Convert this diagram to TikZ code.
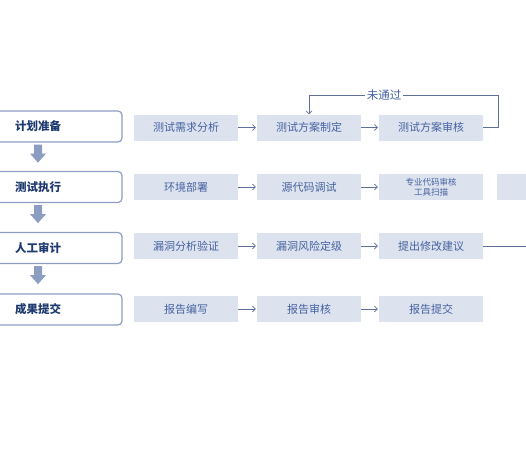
\documentclass[tikz,border=0pt]{standalone}
\usepackage{fontspec}
\setmainfont{Noto Sans CJK SC}
\usetikzlibrary{arrows.meta,calc}
\definecolor{phaseborder}{HTML}{8D9DC3}
\definecolor{phasetext}{HTML}{1F3A70}
\definecolor{stepfill}{HTML}{DCE2EE}
\definecolor{steptext}{HTML}{4662A0}
\definecolor{arrowc}{HTML}{5E6F99}
\definecolor{blockarrow}{HTML}{8C9DC2}
\begin{document}
\begin{tikzpicture}[x=1pt,y=-1pt,
 phasebox/.style={draw=phaseborder, line width=1.2pt, rounded corners=4pt, fill=white,
   minimum width=168pt, minimum height=31pt, inner sep=0pt,
   font=\fontsize{11.5}{13}\selectfont\bfseries, text=phasetext},
 stepbox/.style={fill=stepfill, minimum width=104pt, minimum height=26pt, inner sep=0pt,
   text=steptext, font=\fontsize{11}{13}\selectfont, align=center},
 flow/.style={draw=arrowc, line width=0.6pt, -{Straight Barb[length=3pt,width=6pt]}, shorten >=1pt},
 loopline/.style={draw=arrowc, line width=0.7pt},
 lbl/.style={fill=white, text=steptext, font=\fontsize{11.5}{13}\selectfont, inner sep=2pt},
]
\useasboundingbox (0,0) rectangle (526,459);
% phases
\node[phasebox] (p1) at (38,126.5) {计划准备};
\node[phasebox] (p2) at (38,187) {测试执行};
\node[phasebox] (p3) at (38,248) {人工审计};
\node[phasebox] (p4) at (38,309.5) {成果提交};
\foreach \a in {p1,p2,p3}{
  \fill[blockarrow] ($(\a.south)+(-4,2)$) -- ($(\a.south)+(4,2)$) -- ($(\a.south)+(4,11)$)
    -- ($(\a.south)+(8,11)$) -- ($(\a.south)+(0,20)$) -- ($(\a.south)+(-8,11)$)
    -- ($(\a.south)+(-4,11)$) -- cycle;
}
% row 1
\node[stepbox] (s11) at (186,127.5) {测试需求分析};
\node[stepbox] (s12) at (309,127.5) {测试方案制定};
\node[stepbox] (s13) at (431,127.5) {测试方案审核};
% row 2
\node[stepbox] (s21) at (186,187) {环境部署};
\node[stepbox] (s22) at (309,187) {源代码调试};
\node[stepbox, font=\fontsize{8.5}{10}\selectfont] (s23) at (431,187) {专业代码审核\\工具扫描};
\node[stepbox] (s24) at (549,187) {};
% row 3
\node[stepbox] (s31) at (186,246) {漏洞分析验证};
\node[stepbox] (s32) at (309,246) {漏洞风险定级};
\node[stepbox] (s33) at (431,246) {提出修改建议};
\coordinate (out3) at (530,246);
% row 4
\node[stepbox] (s41) at (186,309) {报告编写};
\node[stepbox] (s42) at (309,309) {报告审核};
\node[stepbox] (s43) at (431,309) {报告提交};
% flows
\draw[flow] (s11) -- (s12);
\draw[flow] (s12) -- (s13);
\draw[flow] (s21) -- (s22);
\draw[flow] (s22) -- (s23);
\draw[flow] (s31) -- (s32);
\draw[flow] (s32) -- (s33);
\draw[flow] (s41) -- (s42);
\draw[flow] (s42) -- (s43);
\draw[loopline] (s33.east) -- (out3);
% feedback loop
\coordinate (fb) at (498,95);
\draw[loopline, -{Straight Barb[length=3pt,width=6pt]}] (s13.east) -| (fb) -| (s12.north);
\node[lbl] (nl) at (384,95) {未通过};
\end{tikzpicture}
\end{document}
